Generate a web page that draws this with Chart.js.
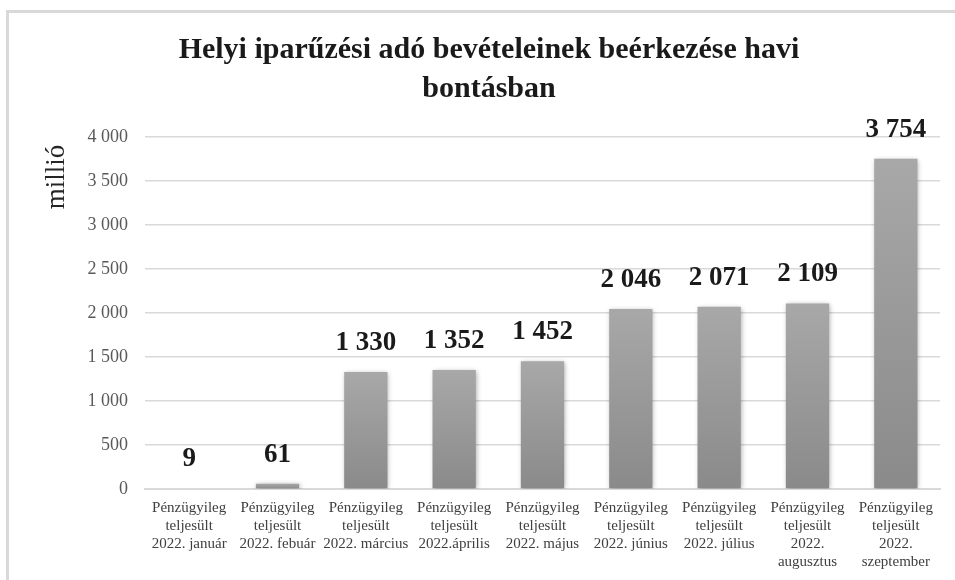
<!DOCTYPE html>
<html>
<head>
<meta charset="utf-8">
<script src="https://cdn.jsdelivr.net/npm/chart.js@4.4.0/dist/chart.umd.min.js"></script>
<style>
  html, body { margin:0; padding:0; background:#fff; }
  #wrap { width:955px; height:580px; }
</style>
</head>
<body>
<div id="wrap"><canvas id="c" width="955" height="580"></canvas></div>
<script>
const months = ['2022. január','2022. febuár','2022. március','2022.április','2022. május','2022. június','2022. július'];
const labels = months.map(m => ['Pénzügyileg','teljesült', m])
  .concat([['Pénzügyileg','teljesült','2022.','augusztus'], ['Pénzügyileg','teljesült','2022.','szeptember']]);
const values = [9, 61, 1330, 1352, 1452, 2046, 2071, 2109, 3754];
const titleLines = ['Helyi iparűzési adó bevételeinek beérkezése havi', 'bontásban'];
const yTitle = 'millió';

const SERIF = '"Liberation Serif", "DejaVu Serif", serif';
const fmt = v => String(v).replace(/\B(?=(\d{3})+(?!\d))/g, ' ');

// frame, y title, bar shadow and value labels
const extras = {
  id: 'extras',
  beforeDraw(chart){
    const ctx = chart.ctx;
    ctx.save();
    ctx.strokeStyle = '#d9d9d9'; ctx.lineWidth = 3;
    ctx.beginPath(); ctx.moveTo(7.5, 585); ctx.lineTo(7.5, 11.5); ctx.lineTo(960, 11.5); ctx.stroke();
    ctx.translate(57, 177); ctx.rotate(-Math.PI / 2);
    ctx.font = '27px ' + SERIF; ctx.fillStyle = '#262626';
    ctx.textAlign = 'center'; ctx.textBaseline = 'middle';
    ctx.fillText(yTitle, 0, 0);
    ctx.restore();
  },
  beforeDatasetsDraw(chart){
    const ctx = chart.ctx;
    ctx.save();
    ctx.shadowColor = 'rgba(0,0,0,0.35)'; ctx.shadowBlur = 5; ctx.shadowOffsetX = 1; ctx.shadowOffsetY = 1;
  },
  afterDatasetsDraw(chart){
    const ctx = chart.ctx;
    ctx.restore();
    ctx.save();
    ctx.font = 'bold 27px ' + SERIF;
    ctx.fillStyle = '#1a1a1a';
    ctx.textAlign = 'center'; ctx.textBaseline = 'middle';
    chart.getDatasetMeta(0).data.forEach((bar, i) => {
      ctx.fillText(fmt(values[i]), bar.x, bar.y - 29);
    });
    ctx.restore();
  }
};

new Chart(document.getElementById('c'), {
  type: 'bar',
  data: { labels, datasets: [{
    data: values,
    backgroundColor: c => {
      const ch = c.chart;
      if (!ch.chartArea) return '#999999';
      const y = ch.scales.y;
      const g = ch.ctx.createLinearGradient(0, y.getPixelForValue(c.raw), 0, y.getPixelForValue(0));
      g.addColorStop(0, '#a8a8a8'); g.addColorStop(1, '#8a8a8a');
      return g;
    },
    barPercentage: 0.49, categoryPercentage: 1
  }]},
  plugins: [extras],
  options: {
    responsive: false, animation: false,
    layout: { padding: { left: 38, right: 15, top: 0, bottom: 0 } },
    plugins: {
      legend: { display: false }, tooltip: { enabled: false },
      title: { display: true, text: titleLines, color: '#1a1a1a',
        font: { family: SERIF, size: 30, weight: 'bold', lineHeight: 1.3 },
        padding: { top: 31, bottom: 28 } }
    },
    scales: {
      y: {
        min: 0, max: 4000,
        ticks: { stepSize: 500, padding: 17, color: '#595959', font: { family: SERIF, size: 18 }, callback: v => fmt(v) },
        grid: { color: '#d9d9d9', lineWidth: 1.5, drawTicks: false },
        border: { display: false },
        afterFit: s => { s.width = 107; }
      },
      x: {
        ticks: { color: '#404040', padding: 10, maxRotation: 0, autoSkip: false, font: { family: SERIF, size: 15, lineHeight: 1.2 } },
        grid: { display: false, drawTicks: false },
        border: { color: '#d9d9d9', width: 2 },
        afterFit: s => { s.height = 91; }
      }
    }
  }
});
</script>
</body>
</html>
